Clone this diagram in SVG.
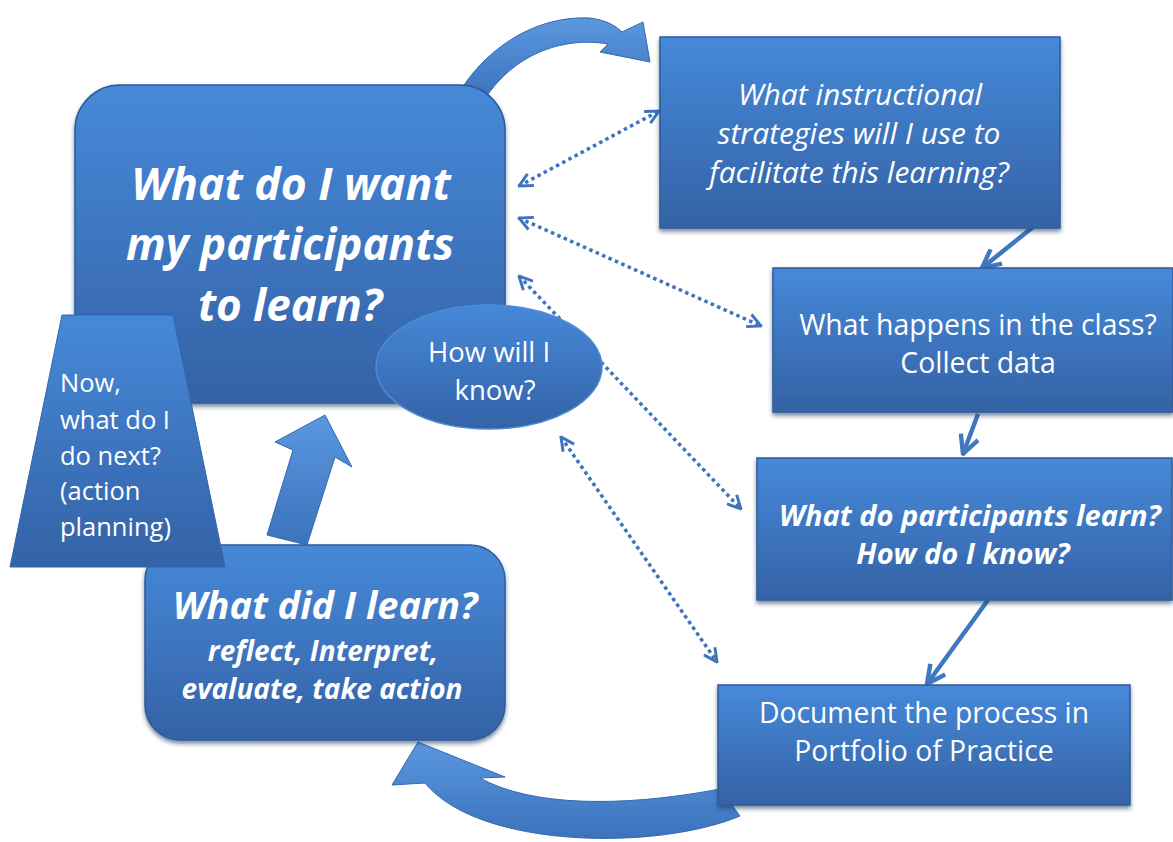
<svg xmlns="http://www.w3.org/2000/svg" width="1173" height="842" viewBox="0 0 1173 842">
<defs>
  <linearGradient id="gBox" x1="0" y1="0" x2="0" y2="1">
    <stop offset="0" stop-color="#4689D9"/>
    <stop offset="1" stop-color="#3462A6"/>
  </linearGradient>
  <linearGradient id="gArrow" x1="0" y1="0" x2="0" y2="1">
    <stop offset="0" stop-color="#5A98E0"/>
    <stop offset="1" stop-color="#3B72BC"/>
  </linearGradient>
  <filter id="sh" x="-10%" y="-10%" width="120%" height="125%">
    <feDropShadow dx="0" dy="3" stdDeviation="2" flood-color="#1F3C66" flood-opacity="0.6"/>
  </filter>
  <marker id="chev" viewBox="0 0 12 12" refX="11" refY="6" markerWidth="16" markerHeight="16" markerUnits="userSpaceOnUse" orient="auto-start-reverse">
    <path d="M1,1 L11,6 L1,11" fill="none" stroke="#3D74BD" stroke-width="2.2"/>
  </marker>
  <marker id="chevS" viewBox="0 0 12 12" refX="11" refY="6" markerWidth="22" markerHeight="22" markerUnits="userSpaceOnUse" orient="auto">
    <path d="M1,1 L11,6 L1,11" fill="none" stroke="#3F77C0" stroke-width="2.4"/>
  </marker>
</defs>
<style>
  .box { fill: url(#gBox); stroke: #2F5B98; stroke-width: 1.5; filter: url(#sh); }
  .arrow { fill: url(#gArrow); stroke: #3568AE; stroke-width: 1; }
  .dot { fill: none; stroke: #3D74BD; stroke-width: 3.5; stroke-dasharray: 3.5 3.5; marker-start: url(#chev); marker-end: url(#chev); }
  .sol { fill: none; stroke: #3F77C0; stroke-width: 4.5; marker-end: url(#chevS); }
  text { font-family: "Open Sans", "Liberation Sans", sans-serif; fill: #FFFFFF; text-anchor: middle; }
  .bi { font-weight: bold; font-style: italic; }
  .it { font-style: italic; }
  .lt { text-anchor: start; }
</style>
<rect width="1173" height="842" fill="#FFFFFF"/>

<g id="connectors">
  <path class="arrow" d="M458,95 C480,55 530,15 590,18 C605,20 615,25 622,32 L643,22 L650,62 L600,52 L608,44 C575,38 520,45 484,100 Z"/>
  <path class="arrow" d="M740,816 C660,850 480,850 425,783 L392,785 L418,742 L505,777 L480,778 C530,806 620,808 720,789 Z"/>
  <path class="arrow" d="M267,535 L293,450 L275,442 L325,415 L352,467 L335,457 L307,545 Z"/>
  <line class="sol" x1="1038" y1="223" x2="982" y2="268"/>
  <line class="sol" x1="978" y1="414" x2="963" y2="454"/>
  <line class="sol" x1="988" y1="600" x2="927" y2="684"/>
  <line class="dot" x1="519" y1="186" x2="659" y2="111"/>
  <line class="dot" x1="519" y1="218" x2="761" y2="326"/>
  <line class="dot" x1="519" y1="276" x2="741" y2="509"/>
  <line class="dot" x1="561" y1="437" x2="717" y2="662"/>
</g>

<g id="node-main">
  <rect class="box" x="75" y="85" width="430" height="318" rx="45" ry="45"/>
  <text class="bi" font-size="44.5" x="291" y="200">What do I want</text>
  <text class="bi" font-size="44" x="290" y="260">my participants</text>
  <text class="bi" font-size="44" x="290" y="321">to learn?</text>
</g>

<g id="node-strategies">
  <rect class="box" x="660" y="37" width="400" height="191"/>
  <text class="it" font-size="30" x="860" y="105">What instructional</text>
  <text class="it" font-size="30" x="859" y="144">strategies will I use to</text>
  <text class="it" font-size="30" x="859" y="183">facilitate this learning?</text>
</g>

<g id="node-class">
  <rect class="box" x="773" y="268" width="400" height="144"/>
  <text font-size="28.4" x="978" y="335">What happens in the class?</text>
  <text font-size="28.4" x="978" y="373">Collect data</text>
</g>

<g id="node-participants">
  <rect class="box" x="757" y="458" width="415" height="142"/>
  <text class="bi" font-size="29" x="970" y="526">What do participants learn?</text>
  <text class="bi" font-size="29" x="963" y="564">How do I know?</text>
</g>

<g id="node-document">
  <rect class="box" x="718" y="685" width="412" height="120"/>
  <text font-size="28.3" x="924" y="723">Document the process in</text>
  <text font-size="28.3" x="924" y="761">Portfolio of Practice</text>
</g>

<g id="node-learned">
  <rect class="box" x="145" y="545" width="360" height="195" rx="35" ry="35"/>
  <text class="bi" font-size="38" x="325" y="619">What did I learn?</text>
  <text class="bi" font-size="28" x="323" y="661">reflect, Interpret,</text>
  <text class="bi" font-size="28" x="322" y="699">evaluate, take action</text>
</g>

<g id="node-next">
  <polygon points="62,315 173,315 225,567 10,567" fill="url(#gBox)" stroke="#3465AA" stroke-width="1"/>
  <text class="lt" font-size="25.5" x="60" y="392">Now,</text>
  <text class="lt" font-size="25.5" x="60" y="429">what do I</text>
  <text class="lt" font-size="25.5" x="60" y="465">do next?</text>
  <text class="lt" font-size="25.5" x="60" y="500">(action</text>
  <text class="lt" font-size="25.5" x="60" y="536">planning)</text>
</g>

<g id="node-know">
  <ellipse cx="489" cy="367" rx="113" ry="62" fill="url(#gBox)" stroke="#4D8BD6" stroke-width="1.5"/>
  <text font-size="27.5" x="489" y="362">How will I</text>
  <text font-size="27.5" x="495" y="400">know?</text>
</g>
</svg>
